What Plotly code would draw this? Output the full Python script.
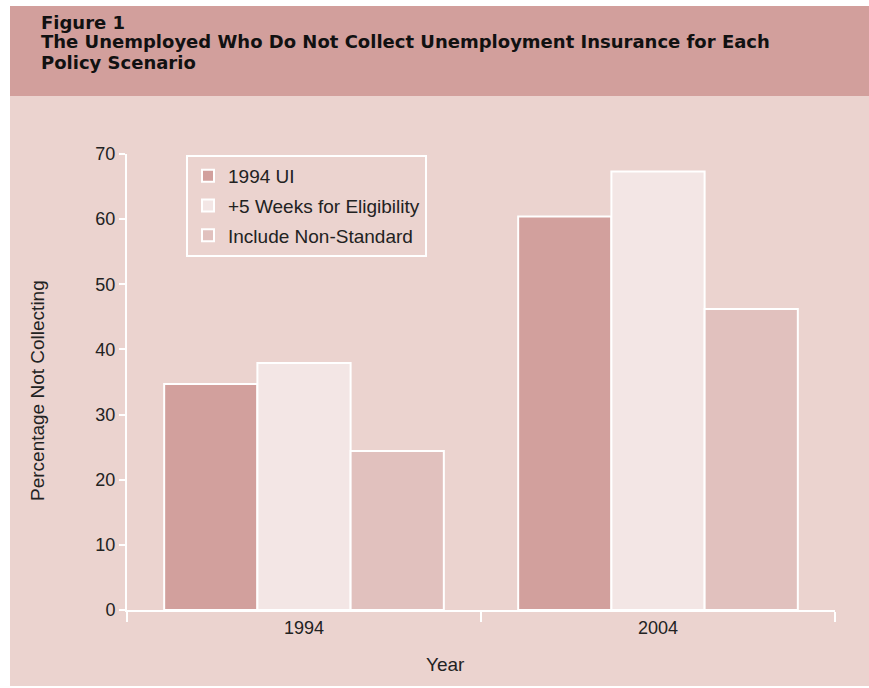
import plotly.graph_objects as go

years = ["1994", "2004"]
series_names = ["1994 UI", "+5 Weeks for Eligibility", "Include Non-Standard"]
ui_1994 = [34.7, 60.4]
plus5_weeks = [37.9, 67.3]
non_standard = [24.4, 46.2]
y_ticks = [0, 10, 20, 30, 40, 50, 60, 70]
title_lines = [
    "Figure 1",
    "The Unemployed Who Do Not Collect Unemployment Insurance for Each",
    "Policy Scenario",
]

colors = ["#d2a09d", "#f3e6e5", "#e1c1be"]
series_values = [ui_1994, plus5_weeks, non_standard]

W, H = 869, 688
L, R, T, B = 127, 34, 154, 78
pw, ph = W - L - R, H - T - B

def px(x):
    return (x - L) / pw

def py(y):
    return (H - B - y) / ph

narrow = "Liberation Sans Narrow, Arial Narrow, Liberation Sans, sans-serif"

fig = go.Figure()
for name, vals, col in zip(series_names, series_values, colors):
    fig.add_trace(go.Bar(
        x=years, y=vals, name=name, legendgroup=name,
        marker=dict(color=col, line=dict(color="white", width=2)),
    ))

annotations = []
for line, yc in zip(title_lines, [22, 42, 62]):
    annotations.append(dict(
        text="<b>" + line + "</b>", xref="paper", yref="paper",
        x=px(39), y=py(yc), xanchor="left", yanchor="middle", showarrow=False,
        font=dict(family="DejaVu Sans, Verdana, sans-serif", size=18, color="#111111")))
annotations += [
    dict(text="Percentage Not Collecting", textangle=-90,
         xref="paper", yref="paper", x=px(37), y=py(391), xanchor="center", yanchor="middle",
         showarrow=False,
         font=dict(family="Liberation Sans, Arial, sans-serif", size=19, color="#222222")),
    dict(text="Year", xref="paper", yref="paper", x=px(445), y=py(664),
         xanchor="center", yanchor="middle", showarrow=False,
         font=dict(family=narrow, size=19, color="#222222")),
]

fig.update_layout(
    width=W, height=H,
    margin=dict(l=L, r=R, t=T, b=B),
    paper_bgcolor="white",
    plot_bgcolor="rgba(0,0,0,0)",
    barmode="group", bargap=0.21, bargroupgap=0,
    font=dict(family=narrow, size=18, color="#222222"),
    showlegend=True,
    legend=dict(
        x=px(186), y=py(155), xanchor="left", yanchor="top",
        bgcolor="rgba(0,0,0,0)", bordercolor="white", borderwidth=2,
        font=dict(family=narrow, size=19, color="#222222"),
        traceorder="grouped", tracegroupgap=2,
    ),
    xaxis=dict(
        type="category", tickson="boundaries", ticks="outside", ticklen=10,
        tickwidth=2, tickcolor="white", showline=True, linecolor="white",
        linewidth=2, showgrid=False, zeroline=False,
        tickfont=dict(family=narrow, size=18, color="#222222"),
    ),
    yaxis=dict(
        range=[0, 70], tickvals=y_ticks, ticks="outside", ticklen=6,
        tickwidth=2, tickcolor="white", showline=True, linecolor="white",
        linewidth=2, showgrid=False, zeroline=False,
        tickfont=dict(family=narrow, size=18, color="#222222"),
    ),
    shapes=[
        dict(type="rect", xref="paper", yref="paper", layer="below",
             x0=px(10), x1=px(869), y0=py(686), y1=py(6),
             fillcolor="#ebd3cf", line=dict(width=0)),
        dict(type="rect", xref="paper", yref="paper", layer="below",
             x0=px(10), x1=px(869), y0=py(96), y1=py(6),
             fillcolor="#d29f9c", line=dict(width=0)),
    ],
    annotations=annotations,
)

fig.write_html("out.html")
